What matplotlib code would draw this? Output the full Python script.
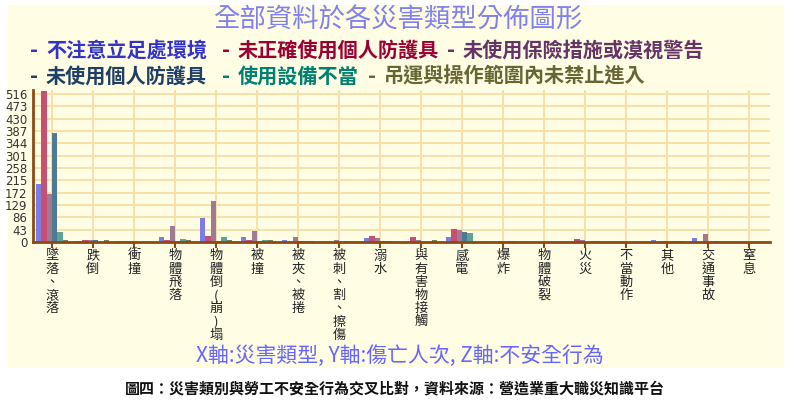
import numpy as np
from matplotlib import pyplot as plt
from matplotlib.patches import Rectangle

plt.rcParams['font.family'] = ['Noto Sans CJK TC', 'DejaVu Sans']

# categories (x axis) and the six unsafe-behaviour series
categories = ["墜落、滾落", "跌倒", "衝撞", "物體飛落", "物體倒(崩)塌", "被撞", "被夾、被捲",
              "被刺、割、擦傷", "溺水", "與有害物接觸", "感電", "爆炸", "物體破裂", "火災",
              "不當動作", "其他", "交通事故", "窒息"]
series_names = ["不注意立足處環境", "未正確使用個人防護具", "未使用保險措施或漠視警告",
                "未使用個人防護具", "使用設備不當", "吊運與操作範圍內未禁止進入"]
s_blue = [201, 5, 2, 16, 83, 18, 8, 1, 13, 0, 16, 0, 0, 0, 0, 6, 13, 1]
s_red = [528, 8, 3, 8, 20, 7, 0, 0, 20, 16, 46, 0, 0, 11, 0, 0, 0, 0]
s_mauve = [167, 8, 4, 56, 143, 37, 16, 6, 13, 8, 41, 4, 0, 7, 0, 5, 27, 0]
s_slate = [379, 6, 1, 2, 4, 2, 2, 0, 4, 0, 35, 0, 0, 0, 0, 0, 0, 0]
s_teal = [36, 1, 0, 10, 16, 6, 3, 3, 4, 0, 30, 3, 0, 4, 0, 2, 5, 0]
s_olive = [6, 8, 1, 8, 8, 6, 2, 1, 1, 7, 0, 0, 0, 2, 0, 2, 0, 0]
yticks = [0, 43, 86, 129, 172, 215, 258, 301, 344, 387, 430, 473, 516]

series = [s_blue, s_red, s_mauve, s_slate, s_teal, s_olive]
bar_colors = ['#7c7ce6', '#c75072', '#a07a90', '#4f7a96', '#5aa596', '#7d7d55']
text_colors = ['#3333cc', '#990033', '#663366', '#1f3f66', '#008070', '#666633']

W, H = 800, 416
fig = plt.figure(figsize=(8, 4.16), dpi=100)
fig.patches.append(Rectangle((8 / W, 1 - 368 / H), 776 / W, 363 / H, transform=fig.transFigure,
                             facecolor='#fffde4', edgecolor='none', zorder=-5))

ax = fig.add_axes([33 / W, 1 - 242 / H, 737 / W, 152 / H])
ax.set_zorder(2)
ax.set_facecolor('none')
x = np.arange(len(categories))
bw = 0.13
for k, vals in enumerate(series):
    ax.bar(x + (k - 2.5) * bw, vals, width=bw, color=bar_colors[k], zorder=3)

ax.set_xlim(-0.46, 17.51)
ax.set_ylim(0, 530)
ax.set_yticks(yticks)
ax.set_yticklabels([str(v) for v in yticks], fontsize=8.5, color='#333333', family='DejaVu Sans')
ax.set_xticks(x)
ax.set_xticklabels([])
ax.grid(True, color='#f7dfa4', linewidth=1.3, zorder=0)
for s in ['top', 'right']:
    ax.spines[s].set_visible(False)
for s in ['left', 'bottom']:
    ax.spines[s].set_color('#8b4a14')
    ax.spines[s].set_linewidth(2)
    ax.spines[s].set_zorder(4)
ax.tick_params(axis='x', length=4, width=1.5, color='#8b4a14')
ax.tick_params(axis='y', length=0, pad=4)

# vertical category labels, one character per line
for i, name in enumerate(categories):
    ax.text(i, -26, "\n".join(name), ha='center', va='top', fontsize=9.5, color='#222222',
            linespacing=1.02, clip_on=False)

fig.text(398 / W, 1 - 20 / H, "全部資料於各災害類型分佈圖形", ha='center', va='center',
         fontsize=19, color='#8080ee')

legend_pos = [(30, 50), (222, 50), (447, 50), (30, 76), (222, 76), (368, 76)]
for k, (lx, ly) in enumerate(legend_pos):
    fig.text(lx / W, 1 - ly / H, "-", ha='left', va='center', fontsize=14,
             color=text_colors[k], fontweight='bold', family='DejaVu Sans')
    fig.text((lx + 16) / W, 1 - ly / H, series_names[k], ha='left', va='center',
             fontsize=14.5, color=text_colors[k], fontweight='bold')

fig.text(400 / W, 1 - 356 / H, "X軸:災害類型, Y軸:傷亡人次, Z軸:不安全行為", ha='center',
         va='center', fontsize=15, color='#6666ff')
fig.text(395 / W, 1 - 388 / H, "圖四：災害類別與勞工不安全行為交叉比對，資料來源：營造業重大職災知識平台",
         ha='center', va='center', fontsize=10.8, color='#111111', fontweight='bold')

fig.savefig('out.png', dpi=100)
